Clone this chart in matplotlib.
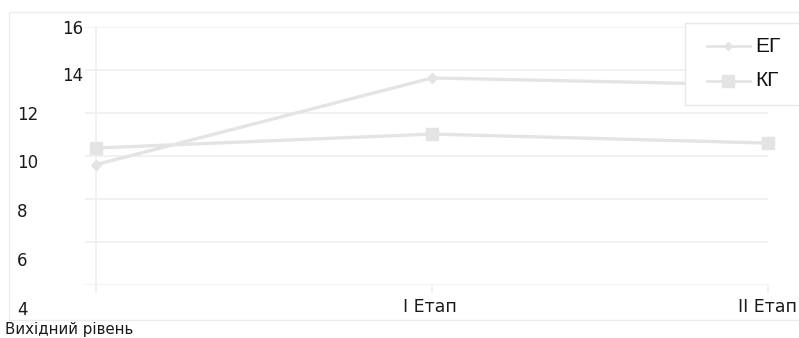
import matplotlib.pyplot as plt
from matplotlib.patches import Rectangle
from matplotlib.lines import Line2D

# Дані
categories = ["Вихідний рівень", "I Етап", "II Етап"]
eg_values = [9.6, 13.63, 13.3]
kg_values = [10.37, 11.02, 10.6]
y_ticks = [4, 6, 8, 10, 12, 14, 16]

W, H = 799, 338
line_col = "#e4e4e4"
grid_col = "#efefef"

fig = plt.figure(figsize=(W / 100, H / 100), dpi=100)
fig.patch.set_facecolor("white")

# рамка діаграми
fig.patches.append(Rectangle((9 / W, 1 - 320 / H), (W - 8) / W, (320 - 12) / H,
                             transform=fig.transFigure, fill=False,
                             edgecolor="#ececec", linewidth=1))

# область побудови: x 85..768, y 27..285
ax = fig.add_axes([85 / W, 1 - 285 / H, (768 - 85) / W, (285 - 27) / H])
ax.set_facecolor("none")
x = list(range(len(categories)))
ax.set_xlim(-11 / 336, 2)
ax.set_ylim(4, 16)

for v in y_ticks:
    ax.axhline(v, color=grid_col, linewidth=1.2, zorder=0)
ax.axvline(0, ymin=-5 / 258, ymax=1, color=grid_col, linewidth=1.2, zorder=0, clip_on=False)

for s in ax.spines.values():
    s.set_visible(False)
ax.set_xticks(x)
ax.set_xticklabels([])
ax.tick_params(axis="x", length=5, color=grid_col, width=1.2)
ax.set_yticks([])

ax.plot(x, eg_values, color=line_col, linewidth=2.4, marker="D", markersize=5,
        zorder=3, clip_on=False)
ax.plot(x, kg_values, color=line_col, linewidth=2.4, marker="s", markersize=9,
        zorder=3, clip_on=False)

# підписи осі Y (зміщені, як у оригіналі)
ylab_pos = {16: (62, 29), 14: (62, 76), 12: (17, 115), 10: (17, 163),
            8: (17, 212), 6: (17, 261), 4: (17, 310)}
for v in y_ticks:
    px, py = ylab_pos[v]
    fig.text(px / W, 1 - py / H, str(v), fontsize=12, color="#1a1a1a",
             ha="left", va="center")

# підписи осі X
xlab_pos = [(5, 329, 10.8), (403, 307, 12.5), (738, 307, 12.5)]
for lab, (px, py, fs) in zip(categories, xlab_pos):
    fig.text(px / W, 1 - py / H, lab, fontsize=fs, color="#1a1a1a",
             ha="left", va="center")

# легенда
fig.patches.append(Rectangle((685 / W, 1 - 105 / H), (W - 684) / W, 82 / H,
                             transform=fig.transFigure, facecolor="white",
                             edgecolor="#e8e8e8", linewidth=1, zorder=5))
leg_items = [("ЕГ", "D", 4, 46), ("КГ", "s", 8, 81)]
for lab, mk, ms, py in leg_items:
    yy = 1 - py / H
    fig.lines.append(Line2D([707 / W, 750 / W], [yy, yy], transform=fig.transFigure,
                            color=line_col, linewidth=2, zorder=6))
    fig.lines.append(Line2D([728 / W], [yy], transform=fig.transFigure,
                            color=line_col, marker=mk, markersize=ms, zorder=6))
    fig.text(755 / W, yy, lab, fontsize=15, family="Liberation Sans",
             color="#111111", ha="left", va="center", zorder=7)

fig.savefig("out.png", dpi=100)
